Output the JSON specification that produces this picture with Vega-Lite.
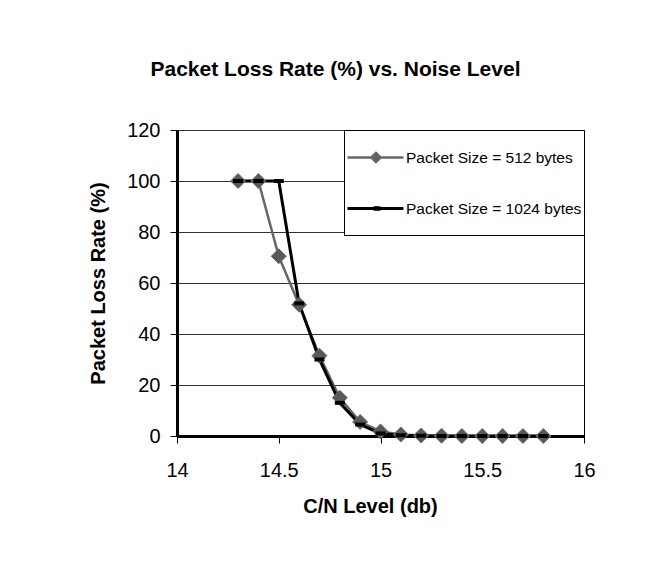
{
  "$schema": "https://vega.github.io/schema/vega-lite/v6.json",
  "width": 407,
  "height": 306,
  "autosize": {"type": "none"},
  "padding": {"left": 177, "top": 130, "right": 87, "bottom": 125},
  "background": "white",
  "config": {
    "view": {"stroke": "black", "strokeWidth": 1},
    "font": "Liberation Sans"
  },
  "title": {
    "text": "Packet Loss Rate (%) vs. Noise Level",
    "font": "Liberation Sans",
    "fontSize": 21,
    "fontWeight": "bold",
    "color": "black",
    "anchor": "middle",
    "dx": -45,
    "offset": 40
  },
  "data": {
    "values": [
      {"cn": 14.3, "loss": 100, "series": "Packet Size = 512 bytes"},
      {"cn": 14.4, "loss": 100, "series": "Packet Size = 512 bytes"},
      {"cn": 14.5, "loss": 70.5, "series": "Packet Size = 512 bytes"},
      {"cn": 14.6, "loss": 51.5, "series": "Packet Size = 512 bytes"},
      {"cn": 14.7, "loss": 31.5, "series": "Packet Size = 512 bytes"},
      {"cn": 14.8, "loss": 15, "series": "Packet Size = 512 bytes"},
      {"cn": 14.9, "loss": 5.5, "series": "Packet Size = 512 bytes"},
      {"cn": 15.0, "loss": 1.8, "series": "Packet Size = 512 bytes"},
      {"cn": 15.1, "loss": 0.6, "series": "Packet Size = 512 bytes"},
      {"cn": 15.2, "loss": 0.2, "series": "Packet Size = 512 bytes"},
      {"cn": 15.3, "loss": 0.1, "series": "Packet Size = 512 bytes"},
      {"cn": 15.4, "loss": 0, "series": "Packet Size = 512 bytes"},
      {"cn": 15.5, "loss": 0, "series": "Packet Size = 512 bytes"},
      {"cn": 15.6, "loss": 0, "series": "Packet Size = 512 bytes"},
      {"cn": 15.7, "loss": 0, "series": "Packet Size = 512 bytes"},
      {"cn": 15.8, "loss": 0, "series": "Packet Size = 512 bytes"},
      {"cn": 14.3, "loss": 100, "series": "Packet Size = 1024 bytes"},
      {"cn": 14.4, "loss": 100, "series": "Packet Size = 1024 bytes"},
      {"cn": 14.5, "loss": 100, "series": "Packet Size = 1024 bytes"},
      {"cn": 14.6, "loss": 52, "series": "Packet Size = 1024 bytes"},
      {"cn": 14.7, "loss": 30, "series": "Packet Size = 1024 bytes"},
      {"cn": 14.8, "loss": 13, "series": "Packet Size = 1024 bytes"},
      {"cn": 14.9, "loss": 4.5, "series": "Packet Size = 1024 bytes"},
      {"cn": 15.0, "loss": 1, "series": "Packet Size = 1024 bytes"},
      {"cn": 15.1, "loss": 0.3, "series": "Packet Size = 1024 bytes"},
      {"cn": 15.2, "loss": 0.1, "series": "Packet Size = 1024 bytes"},
      {"cn": 15.3, "loss": 0, "series": "Packet Size = 1024 bytes"},
      {"cn": 15.4, "loss": 0, "series": "Packet Size = 1024 bytes"},
      {"cn": 15.5, "loss": 0, "series": "Packet Size = 1024 bytes"},
      {"cn": 15.6, "loss": 0, "series": "Packet Size = 1024 bytes"},
      {"cn": 15.7, "loss": 0, "series": "Packet Size = 1024 bytes"},
      {"cn": 15.8, "loss": 0, "series": "Packet Size = 1024 bytes"}
    ]
  },
  "encoding": {
    "x": {
      "field": "cn",
      "type": "quantitative",
      "scale": {"domain": [14, 16], "nice": false, "zero": false},
      "axis": {
        "title": "C/N Level (db)",
        "values": [14, 14.5, 15, 15.5, 16],
        "format": "~g",
        "grid": false,
        "labelFlush": false,
        "domainColor": "black",
        "domainWidth": 3,
        "tickColor": "black",
        "tickWidth": 1,
        "tickSize": 7,
        "labelFont": "Liberation Sans",
        "labelFontSize": 20,
        "labelColor": "black",
        "labelPadding": 17,
        "titleFont": "Liberation Sans",
        "titleFontSize": 20,
        "titleFontWeight": "bold",
        "titleColor": "black",
        "titlePadding": 16,
        "titleX": 193,
        "titleAnchor": "middle"
      }
    },
    "y": {
      "field": "loss",
      "type": "quantitative",
      "scale": {"domain": [0, 120], "nice": false},
      "axis": {
        "title": "Packet Loss Rate (%)",
        "values": [0, 20, 40, 60, 80, 100, 120],
        "grid": true,
        "gridColor": "#333333",
        "gridWidth": 1,
        "domainColor": "black",
        "domainWidth": 3,
        "tickColor": "black",
        "tickWidth": 1,
        "tickSize": 7,
        "labelFont": "Liberation Sans",
        "labelFontSize": 20,
        "labelColor": "black",
        "labelPadding": 10,
        "titleFont": "Liberation Sans",
        "titleFontSize": 20,
        "titleFontWeight": "bold",
        "titleColor": "black",
        "titlePadding": 18
      }
    }
  },
  "layer": [
    {
      "mark": {"type": "line"},
      "encoding": {
        "color": {
          "field": "series",
          "type": "nominal",
          "scale": {
            "domain": ["Packet Size = 512 bytes", "Packet Size = 1024 bytes"],
            "range": ["#666666", "#000000"]
          },
          "legend": {
            "title": null,
            "orient": "top-right",
            "offset": 0,
            "padding": 2,
            "rowPadding": 2,
            "symbolSize": 2304,
            "symbolStrokeWidth": 0,
            "labelOffset": 9,
            "labelFont": "Liberation Sans",
            "labelFontSize": 15.5,
            "labelColor": "black",
            "labelLimit": 400,
            "fillColor": "white",
            "strokeColor": "black",
            "encode": {
              "symbols": {
                "update": {
                  "shape": {"signal": "datum.value === 'Packet Size = 512 bytes' ? 'M-1,0H1.333M-0.003,0L0.187,-0.19L0.377,0L0.187,0.19ZM-1,0.75L-1,0.75' : 'M-1,0H1.333M0.15,-0.03H0.31V0.03H0.15ZM-1,0.75L-1,0.75'"},
                  "fill": {"signal": "datum.value === 'Packet Size = 512 bytes' ? '#595959' : '#000000'"},
                  "stroke": {"signal": "datum.value === 'Packet Size = 512 bytes' ? '#6e6e6e' : '#000000'"},
                  "strokeWidth": {"signal": "datum.value === 'Packet Size = 512 bytes' ? 2 : 3"},
                  "opacity": {"value": 1}
                }
              }
            }
          }
        },
        "strokeWidth": {
          "field": "series",
          "type": "nominal",
          "scale": {
            "domain": ["Packet Size = 512 bytes", "Packet Size = 1024 bytes"],
            "range": [2.5, 3]
          },
          "legend": null
        }
      }
    },
    {
      "transform": [{"filter": "datum.series === 'Packet Size = 512 bytes'"}],
      "mark": {"type": "point", "shape": "diamond", "size": 225, "filled": true, "fill": "#595959", "stroke": "#6e6e6e", "strokeWidth": 1, "opacity": 1}
    },
    {
      "transform": [{"filter": "datum.series === 'Packet Size = 1024 bytes'"}],
      "mark": {"type": "point", "shape": "M-1,-0.4H1V0.4H-1Z", "size": 100, "filled": true, "fill": "#000000", "opacity": 1}
    }
  ]
}
